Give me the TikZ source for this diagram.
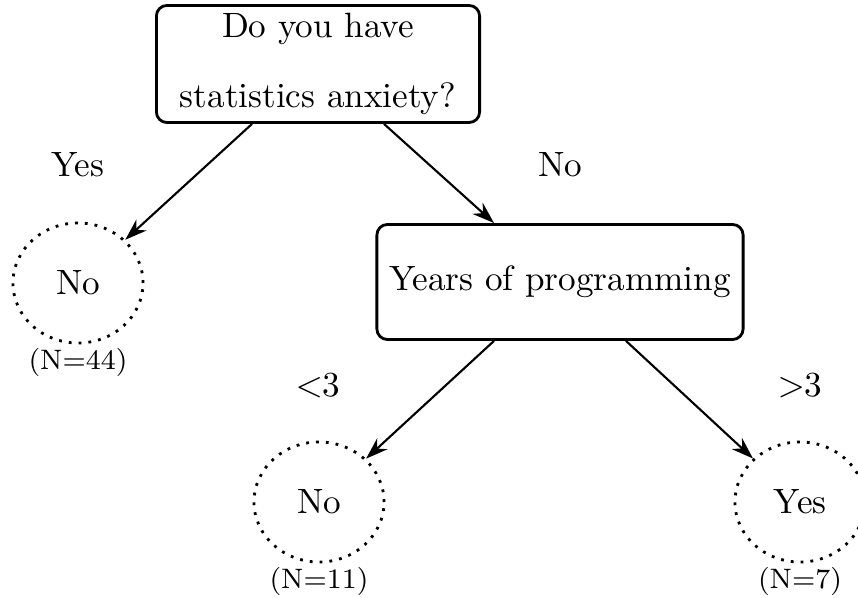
\documentclass[tikz,border=0pt]{standalone}
\usepackage{tikz}
\usetikzlibrary{arrows.meta, positioning, calc, shapes.geometric}

\begin{document}
\begin{tikzpicture}[
  x=0.01cm, y=-0.01cm,
  >={Stealth[length=2.2mm,width=1.5mm]},
  qbox/.style={rectangle, draw, rounded corners=3pt, thick,
        minimum height=1.15cm, align=center, inner sep=2pt},
  leaf/.style={ellipse, draw, dotted, thick,
        minimum width=1.3cm, minimum height=1.2cm, inner sep=0pt},
  count/.style={font=\footnotesize, inner sep=1pt},
  ann/.style={font=\normalsize},
  flow/.style={->, semithick},
]
\useasboundingbox (0,0) rectangle (858,598);

% --- Questions ---
\node[qbox, minimum width=3.23cm, minimum height=1.17cm] (anx) at (318,64)
        {Do you have\\[8pt]statistics anxiety?};
\node[qbox, minimum width=3.66cm] (years) at (560,282)
        {Years of programming};

% --- Leaves with their counts ---
\node[leaf] (noA) at (78,283) {No};
\node[count, below=0mm of noA] (nA) {(N=44)};

\node[leaf] (noB) at (319,502) {No};
\node[count, below=0mm of noB] (nB) {(N=11)};

\node[leaf] (yesB) at (800,502) {Yes};
\node[count, below=0mm of yesB] (nC) {(N=7)};

% --- Branch answers ---
\node[ann] (aYes)  at (78,165)  {Yes};
\node[ann] (aNo)   at (560,165) {No};
\node[ann] (aLess) at (318,385) {$<$3};
\node[ann] (aMore) at (800,385) {$>$3};

% --- Arrows ---
\draw[flow] ($(anx.south)+(-66,0)$) -- (noA);
\draw[flow] ($(anx.south)+(66,0)$) -- ($(years.north)+(-66,0)$);
\draw[flow] ($(years.south)+(-66,0)$) -- (noB);
\draw[flow] ($(years.south)+(66,0)$) -- (yesB);

\end{tikzpicture}
\end{document}
